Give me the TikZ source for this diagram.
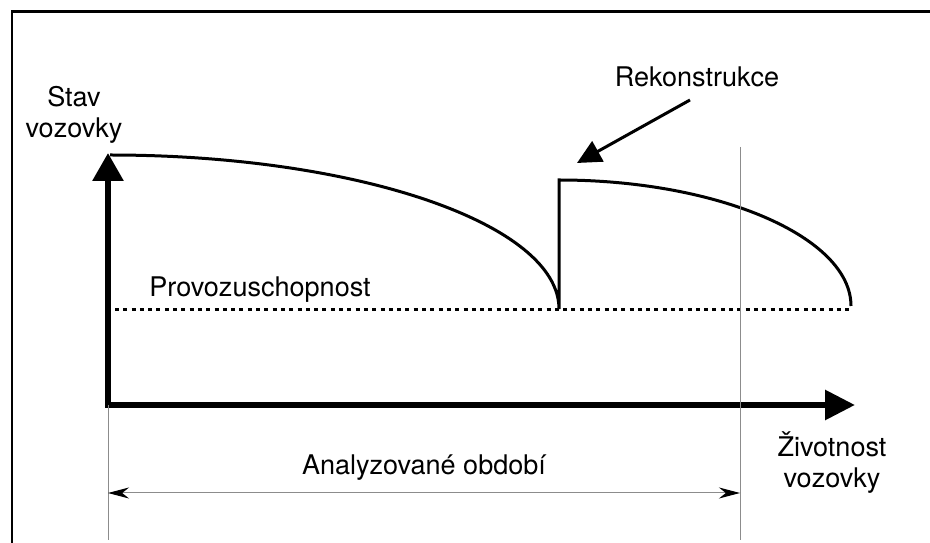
\documentclass[tikz,border=0pt]{standalone}
\usepackage{fontspec}
\setmainfont{TeX Gyre Heros}
\usetikzlibrary{arrows.meta}

\begin{document}
\begin{tikzpicture}[
    x=0.02cm, y=-0.02cm,
    every node/.style={font=\fontsize{15.4}{18}\selectfont, inner sep=0pt},
    axis/.style={line width=0.12cm, {Triangle[length=0.56cm, width=0.6cm]}-{Triangle[length=0.6cm, width=0.58cm]}},
    state/.style={line width=0.06cm},
    limit/.style={line width=0.06cm, dash pattern=on 0.08cm off 0.086cm},
    guide/.style={line width=0.02cm, draw=black!45},
    span/.style={guide, {Stealth[black, length=0.42cm, width=0.22cm]}-{Stealth[black, length=0.42cm, width=0.22cm]}}
]
\useasboundingbox (0,0) rectangle (930,543);
\draw[line width=0.06cm] (12,543) -- (12,12) -- (930,12);

\coordinate (o) at (108,405);
\coordinate (ytip) at (108,153);
\coordinate (xtip) at (855,405);
\draw[axis] (ytip) -- (o) -- (xtip);

\coordinate (start) at (110,155);
\coordinate (worn) at (559,309);
\coordinate (renew) at (559,180);
\coordinate (end) at (851,306);
\draw[state] (start) .. controls (357,155) and (559,224) .. (worn)
    -- (renew) .. controls (718,180) and (851,237) .. (end);
\draw[limit] (115,310) -- (852,310);

\node[anchor=base] (stav) at (74,107) {Stav};
\node[anchor=base] (stav2) at (74,138) {vozovky};
\node[anchor=base] (rek) at (697,87) {Rekonstrukce};
\coordinate (rekfrom) at (690,100);
\coordinate (rekto) at (577,163);
\draw[state, -{Triangle[length=0.48cm, width=0.46cm]}] (rekfrom) -- (rekto);
\node[anchor=base west] (prov) at (149,297) {Provozuschopnost};

\coordinate (life) at (740,147);
\draw[guide] (o) -- (108,540);
\draw[guide] (life) -- (740,540);
\draw[span] (108,493) -- (740,493);
\node[anchor=base] (obdobi) at (424,475) {Analyzované období};
\node[anchor=base] (ziv) at (832,457) {Životnost};
\node[anchor=base] (ziv2) at (832,488) {vozovky};
\end{tikzpicture}
\end{document}
